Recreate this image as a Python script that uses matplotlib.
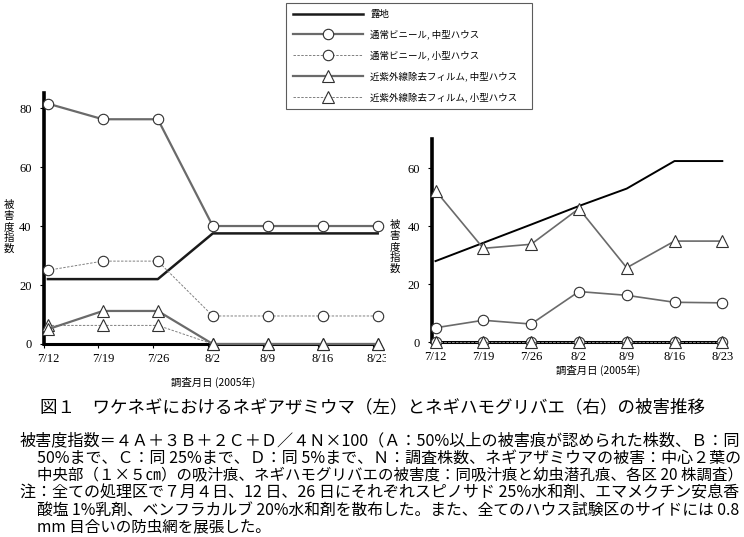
import matplotlib
matplotlib.use("Agg")
import matplotlib.pyplot as plt
from matplotlib.lines import Line2D
from matplotlib.patches import Rectangle

plt.rcParams['font.family'] = ['Noto Sans CJK JP', 'DejaVu Sans']

# ---- data ----
dates = ['7/12', '7/19', '7/26', '8/2', '8/9', '8/16', '8/23']
left_yticks = [0, 20, 40, 60, 80]
right_yticks = [0, 20, 40, 60]

left_roji = [22, 22, 22, 37.5, 37.5, 37.5, 37.5]
left_vinyl_mid = [81.5, 76.2, 76.2, 40, 40, 40, 40]
left_vinyl_small = [25, 28.1, 28.1, 9.5, 9.5, 9.5, 9.5]
left_uvcut_mid = [5, 11.2, 11.2, 0, 0, 0, 0]
left_uvcut_small = [6.3, 6.3, 6.3, 0, 0, 0, 0]

right_roji = [28, 34.3, 40.6, 47, 53, 62.5, 62.5]
right_vinyl_mid = [5, 7.6, 6.3, 17.5, 16.2, 13.8, 13.6]
right_vinyl_small = [0, 0, 0, 0, 0, 0, 0]
right_uvcut_mid = [52.3, 32.4, 33.8, 46.1, 25.7, 34.9, 34.9]
right_uvcut_small = [0, 0, 0, 0, 0, 0, 0]

labels = ['露地', '通常ビニール, 中型ハウス', '通常ビニール, 小型ハウス',
          '近紫外線除去フィルム, 中型ハウス', '近紫外線除去フィルム, 小型ハウス']

caption = '図１　ワケネギにおけるネギアザミウマ（左）とネギハモグリバエ（右）の被害推移'
notes = [
    '被害度指数＝４Ａ＋３Ｂ＋２Ｃ＋Ｄ／４Ｎ×100（Ａ：50%以上の被害痕が認められた株数、Ｂ：同',
    '50%まで、Ｃ：同 25%まで、Ｄ：同 5%まで、Ｎ：調査株数、ネギアザミウマの被害：中心２葉の',
    '中央部（１×５㎝）の吸汁痕、ネギハモグリバエの被害度：同吸汁痕と幼虫潜孔痕、各区 20 株調査）',
    '注：全ての処理区で７月４日、12 日、26 日にそれぞれスピノサド 25%水和剤、エマメクチン安息香',
    '酸塩 1%乳剤、ベンフラカルブ 20%水和剤を散布した。また、全てのハウス試験区のサイドには 0.8',
    'mm 目合いの防虫網を展張した。',
]
note_indent = [False, True, True, False, True, True]
note_justify = [True, True, True, True, True, False]

W, H = 744, 537
fig = plt.figure(figsize=(W / 100, H / 100), dpi=100)

def fx(px):
    return px / W

def fy(py):
    return 1 - py / H

def make_axes(l, r, t, b):
    return fig.add_axes([fx(l), fy(b), fx(r) - fx(l), fy(t) - fy(b)])

axL = make_axes(43.5, 377.7, 93.3, 344)
axR = make_axes(431.7, 722.3, 139.3, 342.3)

x = list(range(len(dates)))
gray = '#6a6a6a'
mec = '#303030'

styles = [
    dict(color='#1a1a1a', lw=1.8, marker=None),
    dict(color=gray, lw=1.6, marker='o', ms=7.5, mfc='white', mec=mec, mew=0.8),
    dict(color='#808080', lw=0.7, ls=(0, (2.5, 1.5)), marker='o', ms=7.5, mfc='white', mec=mec, mew=0.8),
    dict(color=gray, lw=1.6, marker='^', ms=8, mfc='white', mec=mec, mew=0.8),
    dict(color='#808080', lw=0.7, ls=(0, (2.5, 1.5)), marker='^', ms=8, mfc='white', mec=mec, mew=0.8),
]

left_series = [left_roji, left_vinyl_mid, left_vinyl_small, left_uvcut_mid, left_uvcut_small]
right_series = [right_roji, right_vinyl_mid, right_vinyl_small, right_uvcut_mid, right_uvcut_small]

order = [0, 2, 4, 1, 3]
for i in order:
    axL.plot(x, left_series[i], clip_on=False, zorder=3 + (i % 2), **styles[i])
for i in order:
    st = dict(styles[i])
    if i == 0:
        st['lw'] = 1.4
        st['color'] = 'black'
    if i in (1, 3):
        st['lw'] = 1.2
    axR.plot(x, right_series[i], clip_on=False, zorder=3, **st)

serif = ['Liberation Serif', 'DejaVu Serif']
for ax, ylim, yt in ((axL, 85, left_yticks), (axR, 70, right_yticks)):
    ax.set_xlim(-0.08, len(dates) - 1)
    ax.set_ylim(0, ylim)
    ax.set_yticks(yt, labels=[str(v) for v in yt], fontfamily=serif, fontsize=9)
    ax.set_xticks(x, labels=dates, fontfamily=serif, fontsize=9)
    for s in ('top', 'right'):
        ax.spines[s].set_visible(False)
    ax.spines['left'].set_linewidth(2.6)
    ax.spines['bottom'].set_linewidth(2.2)
    ax.tick_params(axis='y', direction='out', length=3, width=0.8, pad=5.5)
    ax.tick_params(axis='x', which='major', length=0, pad=6.5)
    ax.set_facecolor('none')

axL.set_xticks([i - 0.08 for i in x], minor=True)
axL.tick_params(axis='x', which='minor', direction='out', length=3, width=0.8)

# axis titles
fig.text(fx(213), fy(382.7), '調査月日 (2005年)', ha='center', va='center', fontsize=7.5)
fig.text(fx(598), fy(370), '調査月日 (2005年)', ha='center', va='center', fontsize=7.5)
ylab = '\n'.join('被害度指数')
fig.text(fx(8.5), fy(226.7), ylab, ha='center', va='center', fontsize=7.5, linespacing=1.12)
fig.text(fx(395), fy(246.7), ylab, ha='center', va='center', fontsize=7.5, linespacing=1.12)

# mask the truncated last label of the left panel
fig.add_artist(Rectangle((fx(386), fy(370)), fx(423) - fx(386), fy(349) - fy(370),
                         transform=fig.transFigure, facecolor='white', edgecolor='none', zorder=5))

# legend
handles = []
for i in range(5):
    st = dict(styles[i])
    handles.append(Line2D([], [], **st))
leg = fig.legend(handles, labels, loc='upper left',
                 bbox_to_anchor=(fx(286), fy(109), fx(532) - fx(286), fy(3) - fy(109)),
                 mode='expand', borderaxespad=0, fontsize=6.8, frameon=True, fancybox=False,
                 edgecolor='#333333', handlelength=7.4, handletextpad=0.75, labelspacing=1.15,
                 borderpad=0.75, numpoints=1)
leg.get_frame().set_linewidth(0.8)

# caption and notes
fig.text(fx(40), fy(407), caption, ha='left', va='center', fontsize=12.6)
note_y = [441, 458, 475, 493, 510, 527]
renderer = fig.canvas.get_renderer()
right_edge = 739
for txt, ind, yy, just in zip(notes, note_indent, note_y, note_justify):
    x0 = 37 if ind else 20
    t = fig.text(fx(x0), fy(yy), txt, ha='left', va='center', fontsize=11.2)
    if just:
        w = t.get_window_extent(renderer).width
        fs = 11.2 * (right_edge - x0) / w
        t.set_fontsize(max(10.0, min(12.0, fs)))

fig.savefig('out.png', dpi=100, facecolor='white')
